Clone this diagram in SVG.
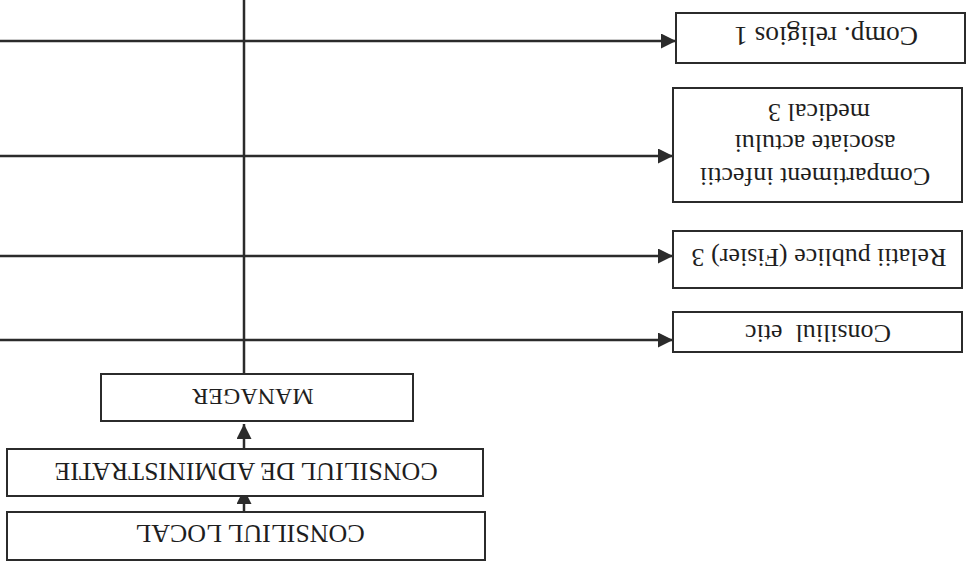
<svg xmlns="http://www.w3.org/2000/svg" width="974" height="572" viewBox="0 0 974 572">
<style>
.box{fill:#fff;stroke:#2b2b2b;stroke-width:2}
.ln{stroke:#2b2b2b;stroke-width:2.5;fill:none}
.t{font-family:"Liberation Serif","Times New Roman",serif;font-size:26px;fill:#1e1e1e;text-anchor:middle;dominant-baseline:central;white-space:pre}
</style>
<defs>
<marker id="ah" markerUnits="userSpaceOnUse" markerWidth="15" markerHeight="15" refX="15" refY="7.5" orient="auto">
<path d="M0,0 L15,7.5 L0,15 Z" fill="#2b2b2b"/>
</marker>
</defs>
<rect width="974" height="572" fill="#fff"/>
<g id="connectors">
<line class="ln" x1="244" y1="0" x2="244" y2="374"/>
<line class="ln" x1="0" y1="41" x2="676" y2="41" marker-end="url(#ah)"/>
<line class="ln" x1="0" y1="156" x2="673" y2="156" marker-end="url(#ah)"/>
<line class="ln" x1="0" y1="256" x2="673" y2="256" marker-end="url(#ah)"/>
<line class="ln" x1="0" y1="340" x2="673" y2="340" marker-end="url(#ah)"/>
<line class="ln" x1="244" y1="448" x2="244" y2="424" marker-end="url(#ah)"/>
<line class="ln" x1="244" y1="512" x2="244" y2="489" marker-end="url(#ah)"/>
</g>
<g id="comp-religios">
<rect class="box" x="676" y="13" width="289" height="50"/>
<text class="t" x="826" y="36" transform="rotate(180 826 36)" style="font-size:27.5px">Comp. religios 1</text>
</g>
<g id="compartiment">
<rect class="box" x="673" y="88" width="289" height="114"/>
<text class="t" x="815" y="176" transform="rotate(180 815 176)">Compartiment infectii</text>
<text class="t" x="815" y="143" transform="rotate(180 815 143)">asociate actului</text>
<text class="t" x="819" y="112" transform="rotate(180 819 112)">medical 3</text>
</g>
<g id="relatii">
<rect class="box" x="673" y="231" width="289" height="57"/>
<text class="t" x="819" y="257" transform="rotate(180 819 257)">Relatii publice (Fisier) 3</text>
</g>
<g id="consiliul-etic">
<rect class="box" x="673" y="312" width="289" height="40"/>
<text class="t" x="818" y="333" transform="rotate(180 818 333)">Consiliul  etic</text>
</g>
<g id="manager">
<rect class="box" x="101" y="374" width="312" height="47"/>
<text class="t" x="253" y="397" transform="rotate(180 253 397)" style="font-size:24px">MANAGER</text>
</g>
<g id="consiliul-administratie">
<rect class="box" x="7" y="449" width="476" height="47"/>
<text class="t" x="246" y="471" transform="rotate(180 246 471)">CONSILIUL DE ADMINISTRATIE</text>
</g>
<g id="consiliul-local">
<rect class="box" x="7" y="512" width="478" height="48"/>
<text class="t" x="250" y="533" transform="rotate(180 250 533)">CONSILIUL LOCAL</text>
</g>
</svg>
